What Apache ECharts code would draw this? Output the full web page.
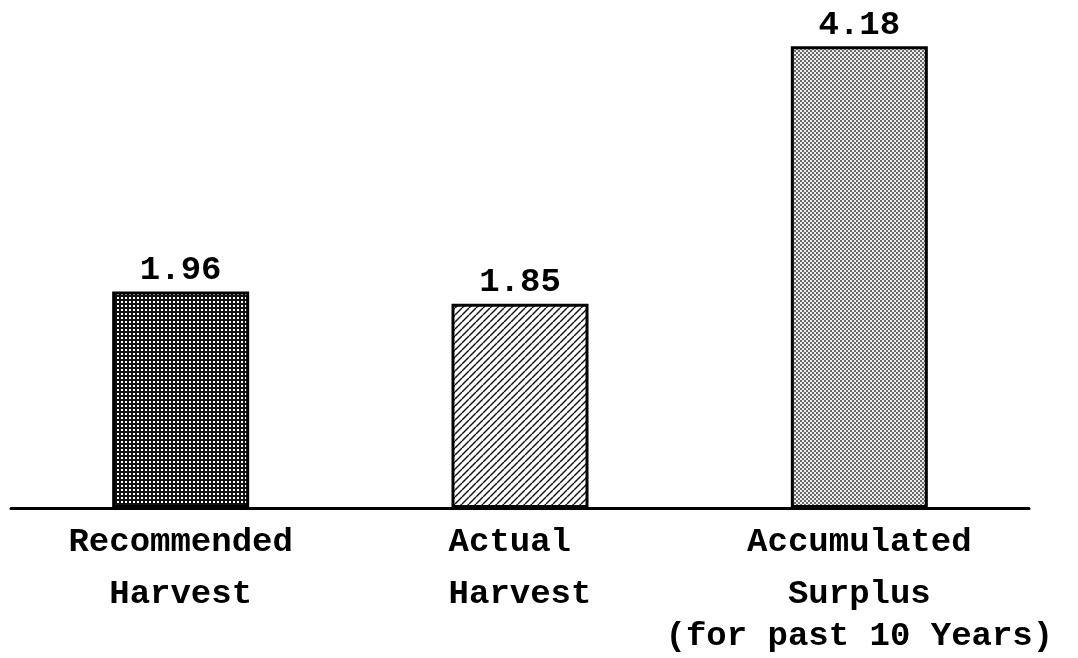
<!DOCTYPE html>
<html>
<head>
<meta charset="utf-8">
<script src="https://cdn.jsdelivr.net/npm/echarts@6/dist/echarts.min.js"></script>
<style>
html,body{margin:0;padding:0;background:#fff;}
#chart{width:1078px;height:658px;}
</style>
</head>
<body>
<div id="chart"></div>
<script>
// ---- data ----
const categories = [
  ['Recommended', 'Harvest'],
  ['Actual', 'Harvest'],
  ['Accumulated', 'Surplus', '(for past 10 Years)']
];
const values = [1.96, 1.85, 4.18];
const valueLabels = ['1.96', '1.85', '4.18'];

// ---- patterns ----
function tile(w, h, draw) {
  const c = document.createElement('canvas');
  c.width = w; c.height = h;
  const ctx = c.getContext('2d');
  draw(ctx, w, h);
  return { image: c, repeat: 'repeat' };
}
const gridPattern = tile(4, 4, (ctx) => {
  ctx.fillStyle = '#111';
  ctx.fillRect(0, 0, 4, 4);
  ctx.fillStyle = '#fff';
  ctx.fillRect(1, 1, 2, 2);
});
const hatchPattern = tile(7, 7, (ctx, w, h) => {
  ctx.fillStyle = '#fff';
  ctx.fillRect(0, 0, w, h);
  ctx.strokeStyle = '#111';
  ctx.lineWidth = 1.4;
  for (let k = -w; k <= w; k += w) {
    ctx.beginPath();
    ctx.moveTo(k, h);
    ctx.lineTo(k + w, 0);
    ctx.stroke();
  }
});
const stipplePattern = tile(4, 4, (ctx) => {
  ctx.fillStyle = '#ececec';
  ctx.fillRect(0, 0, 4, 4);
  ctx.fillStyle = '#6a6a6a';
  ctx.fillRect(0, 0, 2, 2);
  ctx.fillRect(2, 2, 2, 2);
});
const patterns = [gridPattern, hatchPattern, stipplePattern];

const FONT = "'Courier New', 'Liberation Mono', monospace";

const chart = echarts.init(document.getElementById('chart'));
chart.setOption({
  animation: false,
  backgroundColor: '#fff',
  grid: { left: 11, right: 49, top: 11, bottom: 150, containLabel: false },
  xAxis: {
    type: 'category',
    data: categories.map(l => l.join('\n')),
    axisLine: { show: true, lineStyle: { color: '#000', width: 3 } },
    axisTick: { show: false },
    axisLabel: {
      interval: 0,
      margin: 8,
      color: '#000',
      fontFamily: FONT,
      fontWeight: 'bold',
      fontSize: 34,
      formatter: function (v, idx) {
        const lines = v.split('\n');
        const style = idx === 1 ? 'l' : 'a';
        return lines.map((s, i) => '{' + (i === 2 ? 'c' : style) + '|' + s + '}').join('\n');
      },
      rich: {
        a: { fontFamily: FONT, fontWeight: 'bold', fontSize: 34, color: '#000', lineHeight: 52 },
        l: { fontFamily: FONT, fontWeight: 'bold', fontSize: 34, color: '#000', lineHeight: 52, align: 'left' },
        c: { fontFamily: FONT, fontWeight: 'bold', fontSize: 34, color: '#000', lineHeight: 32 }
      }
    }
  },
  yAxis: {
    type: 'value',
    min: 0,
    max: 4.5,
    show: false,
    splitLine: { show: false }
  },
  series: [{
    type: 'bar',
    barWidth: 137,
    data: values.map((v, i) => ({
      value: v,
      itemStyle: { color: patterns[i] }
    })),
    itemStyle: { borderColor: '#000', borderWidth: 3 },
    label: {
      show: true,
      position: 'top',
      distance: 4,
      color: '#000',
      fontFamily: FONT,
      fontWeight: 'bold',
      fontSize: 34,
      formatter: p => valueLabels[p.dataIndex]
    }
  }]
});
</script>
</body>
</html>
